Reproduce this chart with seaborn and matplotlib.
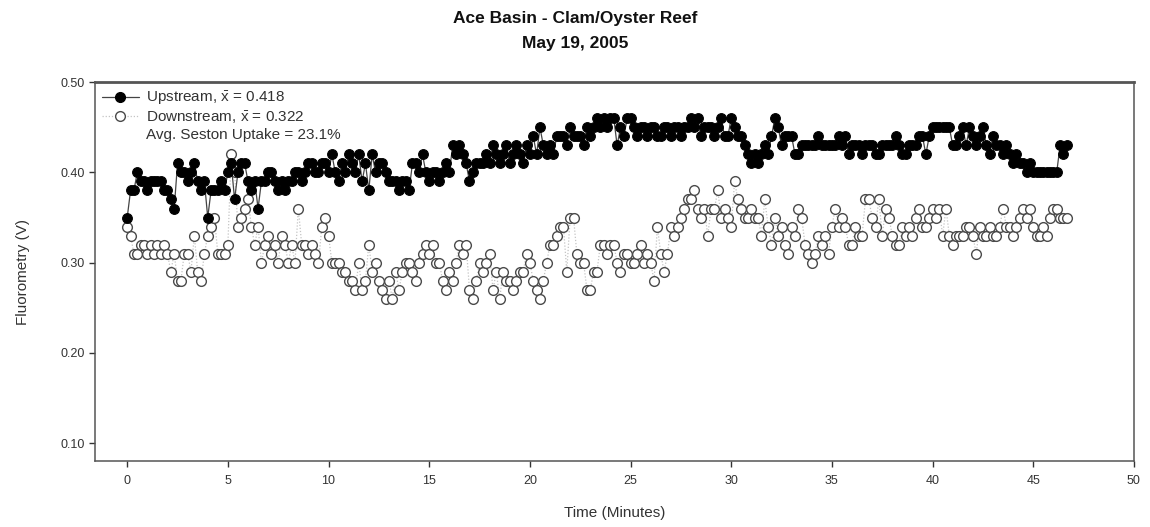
import numpy as np
import pandas as pd
import matplotlib
matplotlib.use("Agg")
import matplotlib.pyplot as plt
from matplotlib.lines import Line2D
import seaborn as sns

# ── Data (10-second readings, values in volts) ────────────────────────────────
upstream = [
    0.35, 0.38, 0.38, 0.40, 0.39, 0.39,
    0.38, 0.39, 0.39, 0.39, 0.39, 0.38,
    0.38, 0.37, 0.36, 0.41, 0.40, 0.40,
    0.39, 0.40, 0.41, 0.39, 0.38, 0.39,
    0.35, 0.38, 0.38, 0.38, 0.39, 0.38,
    0.40, 0.41, 0.37, 0.40, 0.41, 0.41,
    0.39, 0.38, 0.39, 0.36, 0.39, 0.39,
    0.40, 0.40, 0.39, 0.38, 0.39, 0.38,
    0.39, 0.39, 0.40, 0.40, 0.39, 0.40,
    0.41, 0.41, 0.40, 0.40, 0.41, 0.41,
    0.40, 0.42, 0.40, 0.39, 0.41, 0.40,
    0.42, 0.41, 0.40, 0.42, 0.39, 0.41,
    0.38, 0.42, 0.40, 0.41, 0.41, 0.40,
    0.39, 0.39, 0.39, 0.38, 0.39, 0.39,
    0.38, 0.41, 0.41, 0.40, 0.42, 0.40,
    0.39, 0.40, 0.40, 0.39, 0.40, 0.41,
    0.40, 0.43, 0.42, 0.43, 0.42, 0.41,
    0.39, 0.40, 0.41, 0.41, 0.41, 0.42,
    0.41, 0.43, 0.42, 0.41, 0.42, 0.43,
    0.41, 0.42, 0.43, 0.42, 0.41, 0.43,
    0.42, 0.44, 0.42, 0.45, 0.43, 0.42,
    0.43, 0.42, 0.44, 0.44, 0.44, 0.43,
    0.45, 0.44, 0.44, 0.44, 0.43, 0.45,
    0.44, 0.45, 0.46, 0.45, 0.46, 0.45,
    0.46, 0.46, 0.43, 0.45, 0.44, 0.46,
    0.46, 0.45, 0.44, 0.45, 0.45, 0.44,
    0.45, 0.45, 0.44, 0.44, 0.45, 0.45,
    0.44, 0.45, 0.45, 0.44, 0.45, 0.45,
    0.46, 0.45, 0.46, 0.44, 0.45, 0.45,
    0.45, 0.44, 0.45, 0.46, 0.44, 0.44,
    0.46, 0.45, 0.44, 0.44, 0.43, 0.42,
    0.41, 0.42, 0.41, 0.42, 0.43, 0.42,
    0.44, 0.46, 0.45, 0.43, 0.44, 0.44,
    0.44, 0.42, 0.42, 0.43, 0.43, 0.43,
    0.43, 0.43, 0.44, 0.43, 0.43, 0.43,
    0.43, 0.43, 0.44, 0.43, 0.44, 0.42,
    0.43, 0.43, 0.43, 0.42, 0.43, 0.43,
    0.43, 0.42, 0.42, 0.43, 0.43, 0.43,
    0.43, 0.44, 0.43, 0.42, 0.42, 0.43,
    0.43, 0.43, 0.44, 0.44, 0.42, 0.44,
    0.45, 0.45, 0.45, 0.45, 0.45, 0.45,
    0.43, 0.43, 0.44, 0.45, 0.43, 0.45,
    0.44, 0.43, 0.44, 0.45, 0.43, 0.42,
    0.44, 0.43, 0.43, 0.42, 0.43, 0.42,
    0.41, 0.42, 0.41, 0.41, 0.40, 0.41,
    0.40, 0.40, 0.40, 0.40, 0.40, 0.40,
    0.40, 0.40, 0.43, 0.42, 0.43,
]

downstream = [
    0.34, 0.33, 0.31, 0.31, 0.32, 0.32,
    0.31, 0.32, 0.31, 0.32, 0.31, 0.32,
    0.31, 0.29, 0.31, 0.28, 0.28, 0.31,
    0.31, 0.29, 0.33, 0.29, 0.28, 0.31,
    0.33, 0.34, 0.35, 0.31, 0.31, 0.31,
    0.32, 0.42, 0.40, 0.34, 0.35, 0.36,
    0.37, 0.34, 0.32, 0.34, 0.30, 0.32,
    0.33, 0.31, 0.32, 0.30, 0.33, 0.32,
    0.30, 0.32, 0.30, 0.36, 0.32, 0.32,
    0.31, 0.32, 0.31, 0.30, 0.34, 0.35,
    0.33, 0.30, 0.30, 0.30, 0.29, 0.29,
    0.28, 0.28, 0.27, 0.30, 0.27, 0.28,
    0.32, 0.29, 0.30, 0.28, 0.27, 0.26,
    0.28, 0.26, 0.29, 0.27, 0.29, 0.30,
    0.30, 0.29, 0.28, 0.30, 0.31, 0.32,
    0.31, 0.32, 0.30, 0.30, 0.28, 0.27,
    0.29, 0.28, 0.30, 0.32, 0.31, 0.32,
    0.27, 0.26, 0.28, 0.30, 0.29, 0.30,
    0.31, 0.27, 0.29, 0.26, 0.29, 0.28,
    0.28, 0.27, 0.28, 0.29, 0.29, 0.31,
    0.30, 0.28, 0.27, 0.26, 0.28, 0.30,
    0.32, 0.32, 0.33, 0.34, 0.34, 0.29,
    0.35, 0.35, 0.31, 0.30, 0.30, 0.27,
    0.27, 0.29, 0.29, 0.32, 0.32, 0.31,
    0.32, 0.32, 0.30, 0.29, 0.31, 0.31,
    0.30, 0.30, 0.31, 0.32, 0.30, 0.31,
    0.30, 0.28, 0.34, 0.31, 0.29, 0.31,
    0.34, 0.33, 0.34, 0.35, 0.36, 0.37,
    0.37, 0.38, 0.36, 0.35, 0.36, 0.33,
    0.36, 0.36, 0.38, 0.35, 0.36, 0.35,
    0.34, 0.39, 0.37, 0.36, 0.35, 0.35,
    0.36, 0.35, 0.35, 0.33, 0.37, 0.34,
    0.32, 0.35, 0.33, 0.34, 0.32, 0.31,
    0.34, 0.33, 0.36, 0.35, 0.32, 0.31,
    0.30, 0.31, 0.33, 0.32, 0.33, 0.31,
    0.34, 0.36, 0.34, 0.35, 0.34, 0.32,
    0.32, 0.34, 0.33, 0.33, 0.37, 0.37,
    0.35, 0.34, 0.37, 0.33, 0.36, 0.35,
    0.33, 0.32, 0.32, 0.34, 0.33, 0.34,
    0.33, 0.35, 0.36, 0.34, 0.34, 0.35,
    0.36, 0.35, 0.36, 0.33, 0.36, 0.33,
    0.32, 0.33, 0.33, 0.33, 0.34, 0.34,
    0.33, 0.31, 0.34, 0.33, 0.33, 0.34,
    0.33, 0.33, 0.34, 0.36, 0.34, 0.34,
    0.33, 0.34, 0.35, 0.36, 0.35, 0.36,
    0.34, 0.33, 0.33, 0.34, 0.33, 0.35,
    0.36, 0.36, 0.35, 0.35, 0.35,
]

# readings every 10 seconds
time_min = np.arange(len(upstream)) / 6.0

TITLE = "Ace Basin - Clam/Oyster Reef\nMay 19, 2005"
UP_LABEL = r"Upstream, $\bar{\mathrm{x}}$ = 0.418"
DOWN_LABEL = r"Downstream, $\bar{\mathrm{x}}$ = 0.322"
UPTAKE_LABEL = "Avg. Seston Uptake = 23.1%"
X_TICKS = list(range(0, 51, 5))
Y_TICKS = [0.10, 0.20, 0.30, 0.40, 0.50]

df = pd.DataFrame({"time": time_min, "up": upstream, "down": downstream})

# ── Style ─────────────────────────────────────────────────────────────────────
sns.set_style("ticks")
plt.rcParams["font.family"] = ["Liberation Sans", "DejaVu Sans"]
plt.rcParams["mathtext.fontset"] = "custom"
plt.rcParams["mathtext.rm"] = "Liberation Sans"

fig = plt.figure(figsize=(11.5, 5.27), dpi=100)
ax = fig.add_axes([0.0826, 0.125, 0.9034, 0.719])

# ── Plot ──────────────────────────────────────────────────────────────────────
sns.lineplot(data=df, x="time", y="down", ax=ax, estimator=None, sort=False,
             color="#c4c4c4", linestyle=(0, (1, 1.5)), linewidth=0.9,
             marker="o", markersize=7, markerfacecolor="white",
             markeredgecolor="#4a4a4a", markeredgewidth=1.0, zorder=2)
sns.lineplot(data=df, x="time", y="up", ax=ax, estimator=None, sort=False,
             color="#444444", linewidth=0.9,
             marker="o", markersize=7, markerfacecolor="black",
             markeredgecolor="black", markeredgewidth=0.8, zorder=3)

ax.set_xlim(-1.6, 50)
ax.set_ylim(0.08, 0.50)
ax.set_xticks(X_TICKS)
ax.set_yticks(Y_TICKS)
ax.set_yticklabels([f"{v:.2f}" for v in Y_TICKS])
ax.tick_params(labelsize=9, colors="#333333", length=4, width=1)
ax.tick_params(axis="x", pad=6)
for s in ax.spines.values():
    s.set_color("#555555")
    s.set_linewidth(1.1)
ax.spines["top"].set_linewidth(2.0)

ax.set_xlabel("Time (Minutes)", fontsize=11, color="#333333", labelpad=14)
ax.set_ylabel("Fluorometry (V)", fontsize=11, color="#333333", labelpad=22)
fig.text(0.5, 0.965, "Ace Basin - Clam/Oyster Reef", ha="center", va="center",
         fontsize=12.5, fontweight="bold", color="#111111")
fig.text(0.5, 0.918, "May 19, 2005", ha="center", va="center",
         fontsize=12.5, fontweight="bold", color="#111111")

handles = [
    Line2D([], [], color="#444444", linewidth=0.9, marker="o",
           markersize=7, markerfacecolor="black", markeredgecolor="black"),
    Line2D([], [], color="#c4c4c4", linestyle=(0, (1, 1.5)), linewidth=0.9,
           marker="o", markersize=7, markerfacecolor="white",
           markeredgecolor="#4a4a4a"),
    Line2D([], [], linestyle="none"),
]
leg = ax.legend(handles, [UP_LABEL, DOWN_LABEL, UPTAKE_LABEL], loc="upper left",
                frameon=False, fontsize=11, handlelength=2.4,
                borderaxespad=0.05, labelspacing=0.12, handletextpad=0.5)
for t in leg.get_texts():
    t.set_color("#333333")

fig.savefig("out.png", dpi=100)
